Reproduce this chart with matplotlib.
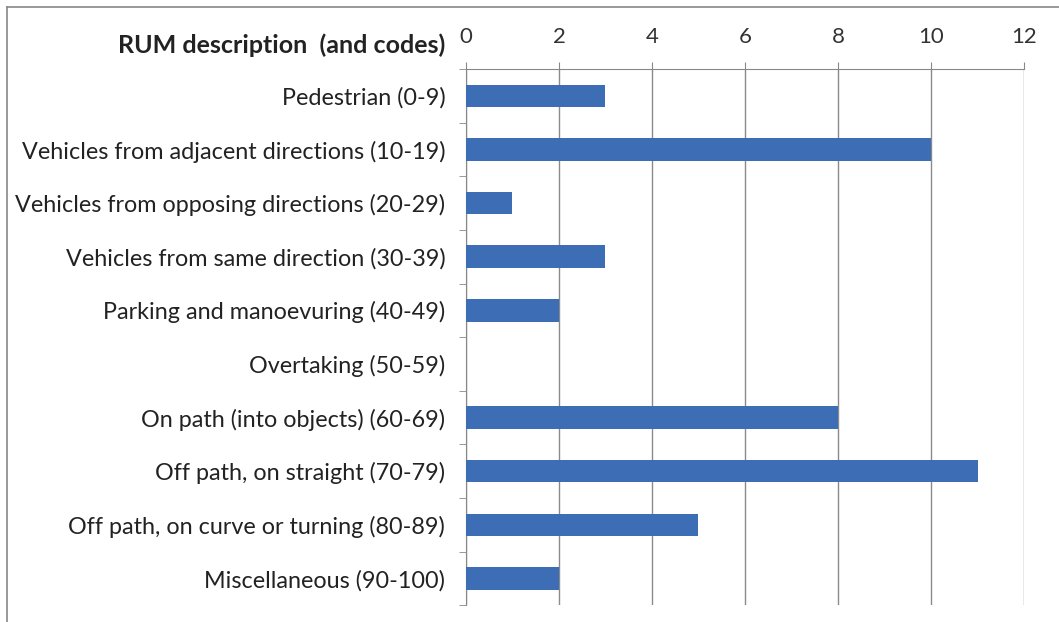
import matplotlib.pyplot as plt
from matplotlib.lines import Line2D

plt.rcParams['font.family'] = ['Lato', 'DejaVu Sans']

categories = [
    "Pedestrian (0-9)",
    "Vehicles from adjacent directions (10-19)",
    "Vehicles from opposing directions (20-29)",
    "Vehicles from same direction (30-39)",
    "Parking and manoevuring (40-49)",
    "Overtaking (50-59)",
    "On path (into objects) (60-69)",
    "Off path, on straight (70-79)",
    "Off path, on curve or turning (80-89)",
    "Miscellaneous (90-100)",
]
counts = [3, 10, 1, 3, 2, 0, 8, 11, 5, 2]
x_ticks = [0, 2, 4, 6, 8, 10, 12]

fig = plt.figure(figsize=(10.59, 6.22), dpi=100)
ax = fig.add_axes([0.440, 0.027, 0.527, 0.862])

pos = list(range(len(categories)))
ax.barh(pos, counts, height=0.42, color='#3D6DB5', zorder=3)

ax.set_xlim(0, 12)
ax.set_ylim(len(categories) - 0.5, -0.5)
ax.xaxis.tick_top()
ax.set_xticks(x_ticks)
ax.set_xticklabels([str(t) for t in x_ticks], fontsize=16, color='#333333')
ax.tick_params(axis='x', length=5, color='#888888', pad=11)

ax.set_yticks(pos)
ax.set_yticklabels(categories, fontsize=16.8, color='#222222')
ax.tick_params(axis='y', length=0, pad=15)
ax.set_yticks([p - 0.5 for p in pos] + [len(categories) - 0.5], minor=True)
ax.tick_params(axis='y', which='minor', length=5, color='#888888')

ax.grid(axis='x', color='#8a8a8a', linewidth=1, zorder=0)
for s in ['right', 'bottom']:
    ax.spines[s].set_visible(False)
ax.spines['top'].set_color('#888888')
ax.spines['left'].set_color('#888888')

fig.text(0.420, 0.927, "RUM description  (and codes)", fontsize=18,
         fontweight='bold', ha='right', va='center', color='#222222')

fig.add_artist(Line2D([0.0066, 1.0], [0.989, 0.989], color='#888888', lw=1.2))
fig.add_artist(Line2D([0.0066, 0.0066], [0.0, 0.989], color='#888888', lw=1.2))

fig.savefig('out.png', dpi=100)
